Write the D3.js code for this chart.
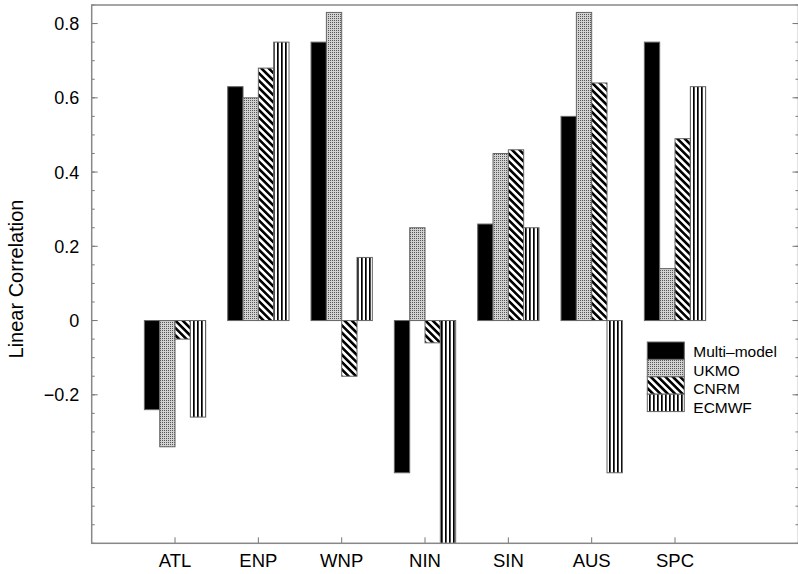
<!DOCTYPE html>
<html>
<head>
<meta charset="utf-8">
<script src="https://cdn.jsdelivr.net/npm/d3@7"></script>
<style>
  html, body { margin: 0; padding: 0; background: #fff; }
  svg { display: block; font-family: "Liberation Sans", Arial, Helvetica, sans-serif; }
</style>
</head>
<body>
<svg id="chart" width="798" height="574"></svg>
<script>
// ---- data ----
const categories = ["ATL", "ENP", "WNP", "NIN", "SIN", "AUS", "SPC"];
const seriesNames = ["Multi\u2013model", "UKMO", "CNRM", "ECMWF"];
const multiModel = [-0.24, 0.63, 0.75, -0.41, 0.26, 0.55, 0.75];
const ukmo       = [-0.34, 0.60, 0.83,  0.25, 0.45, 0.83, 0.14];
const cnrm       = [-0.05, 0.68, -0.15, -0.06, 0.46, 0.64, 0.49];
const ecmwf      = [-0.26, 0.75, 0.17, -0.65, 0.25, -0.41, 0.63];
const majorTicks = [-0.2, 0, 0.2, 0.4, 0.6, 0.8];
const majorTickLabels = ["\u22120.2", "0", "0.2", "0.4", "0.6", "0.8"];
const yTitle = "Linear Correlation";

(function () {
// ---- layout ----
const pLeft = 91.7, pTop = 5, pBottom = 543.3, pRight = 798.5;
const svg = d3.select("#chart");

const y = d3.scaleLinear().domain([-0.6, 0.85]).range([pBottom, pTop]);
const xPos = d3.scaleLinear().domain([0, 8.5]).range([pLeft, pLeft + 8.5 * 83.33]);
const inner = d3.scaleBand().domain(seriesNames).range([-30.65, 30.65]).padding(0);

const seriesValues = [multiModel, ukmo, cnrm, ecmwf];

// ---- patterns ----
const defs = svg.append("defs");
const pU = defs.append("pattern").attr("id", "pat1").attr("patternUnits", "userSpaceOnUse")
  .attr("width", 2).attr("height", 2);
pU.append("rect").attr("width", 2).attr("height", 2).attr("fill", "#d2d2d2");
pU.append("rect").attr("width", 1).attr("height", 1).attr("fill", "#555");
const pC = defs.append("pattern").attr("id", "pat2").attr("patternUnits", "userSpaceOnUse")
  .attr("width", 5.2).attr("height", 5.2).attr("patternTransform", "rotate(-45)");
pC.append("rect").attr("width", 5.2).attr("height", 5.2).attr("fill", "#fff");
pC.append("rect").attr("width", 2.6).attr("height", 5.2).attr("fill", "#000");
const pE = defs.append("pattern").attr("id", "pat3").attr("patternUnits", "userSpaceOnUse")
  .attr("width", 4).attr("height", 4);
pE.append("rect").attr("width", 4).attr("height", 4).attr("fill", "#fff");
pE.append("rect").attr("x", 1).attr("width", 1.7).attr("height", 4).attr("fill", "#000");

const fills = ["#000", "url(#pat1)", "url(#pat2)", "url(#pat3)"];

defs.append("clipPath").attr("id", "plotClip").append("rect")
  .attr("x", pLeft).attr("y", pTop).attr("width", pRight - pLeft).attr("height", pBottom - pTop);

// ---- bars ----
const barsG = svg.append("g").attr("clip-path", "url(#plotClip)");
const barData = [];
categories.forEach((c, i) => {
  seriesNames.forEach((s, j) => {
    barData.push({ cat: c, i, s, j, v: seriesValues[j][i] });
  });
});
barsG.selectAll("rect.bar").data(barData).enter().append("rect")
  .attr("class", "bar")
  .attr("x", d => xPos(d.i + 1) + inner(d.s))
  .attr("width", inner.bandwidth())
  .attr("y", d => y(Math.max(0, d.v)))
  .attr("height", d => Math.abs(y(d.v) - y(0)))
  .attr("fill", d => fills[d.j])
  .attr("stroke", "#666")
  .attr("stroke-width", 1);

// ---- frame & ticks ----
const axisColor = "#888";
const minorTicks = d3.range(-0.6, 0.8501, 0.05).map(v => Math.round(v * 100) / 100);
const tickG = svg.append("g").attr("stroke", "#777").attr("stroke-width", 1);
tickG.selectAll("line.lm").data(minorTicks).enter().append("line")
  .attr("x1", pLeft).attr("x2", pLeft + 3).attr("y1", d => y(d)).attr("y2", d => y(d));
tickG.selectAll("line.rm").data(minorTicks).enter().append("line")
  .attr("x1", pRight).attr("x2", pRight - 3).attr("y1", d => y(d)).attr("y2", d => y(d));
tickG.selectAll("line.lM").data(majorTicks).enter().append("line")
  .attr("x1", pLeft).attr("x2", pLeft + 6).attr("y1", d => y(d)).attr("y2", d => y(d));
tickG.selectAll("line.rM").data(majorTicks).enter().append("line")
  .attr("x1", pRight).attr("x2", pRight - 6).attr("y1", d => y(d)).attr("y2", d => y(d));
tickG.selectAll("line.bx").data(categories).enter().append("line")
  .attr("x1", (d, i) => xPos(i + 1)).attr("x2", (d, i) => xPos(i + 1))
  .attr("y1", pBottom).attr("y2", pBottom - 6);

svg.append("rect").attr("x", pLeft).attr("y", pTop)
  .attr("width", pRight - pLeft).attr("height", pBottom - pTop)
  .attr("fill", "none").attr("stroke", axisColor).attr("stroke-width", 1.5);

// ---- labels ----
svg.append("g").selectAll("text").data(majorTicks).enter().append("text")
  .attr("x", pLeft - 12.5).attr("y", d => y(d)).attr("dy", "0.36em")
  .attr("text-anchor", "end").attr("font-size", 18)
  .text((d, i) => majorTickLabels[i]);

svg.append("g").selectAll("text").data(categories).enter().append("text")
  .attr("x", (d, i) => xPos(i + 1)).attr("y", 566.5)
  .attr("text-anchor", "middle").attr("font-size", 18.5)
  .text(d => d);

svg.append("text")
  .attr("transform", "translate(22.5,279) rotate(-90)")
  .attr("text-anchor", "middle").attr("font-size", 20)
  .text(yTitle);

// ---- legend ----
const lg = svg.append("g");
const lx = 647.3, ly = 342, lw = 37, lh = 17.4;
seriesNames.forEach((s, j) => {
  lg.append("rect").attr("x", lx).attr("y", ly + j * lh).attr("width", lw).attr("height", lh)
    .attr("fill", fills[j]).attr("stroke", "#666").attr("stroke-width", 1);
  lg.append("text").attr("x", 693.3).attr("y", ly + j * 18.5 + 10).attr("dy", "0.35em")
    .attr("font-size", 15.5).text(s);
});
})();
</script>
</body>
</html>
